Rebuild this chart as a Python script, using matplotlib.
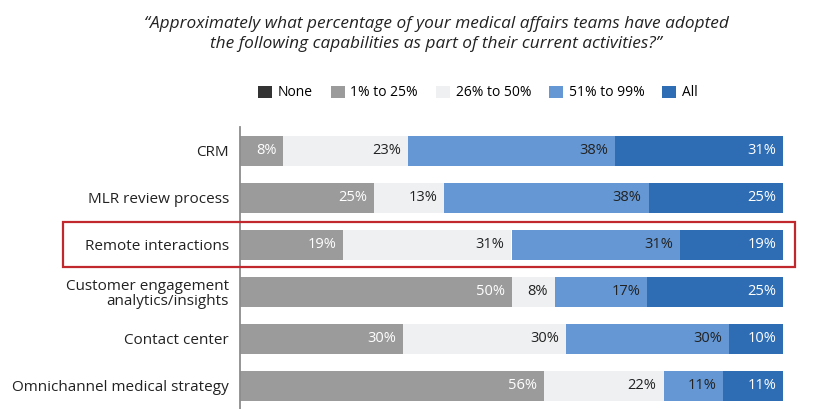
import numpy as np
import matplotlib
matplotlib.use("Agg")
import matplotlib.pyplot as plt
from matplotlib.patches import Patch, Rectangle

plt.rcParams['font.family'] = ['Open Sans', 'DejaVu Sans']

####################### Data #######################
categories = ["CRM", "MLR review process", "Remote interactions",
              "Customer engagement\nanalytics/insights", "Contact center",
              "Omnichannel medical strategy"]
series_names = ["None", "1% to 25%", "26% to 50%", "51% to 99%", "All"]
none_vals = [0, 0, 0, 0, 0, 0]
low_vals = [8, 25, 19, 50, 30, 56]
mid_vals = [23, 13, 31, 8, 30, 22]
high_vals = [38, 38, 31, 17, 30, 11]
all_vals = [31, 25, 19, 25, 10, 11]

colors = ["#333333", "#9b9b9b", "#eef0f2", "#6497d3", "#2e6db4"]
text_colors = ["white", "white", "#222222", "#222222", "white"]
title = ("\u201cApproximately what percentage of your medical affairs teams have adopted\n"
         "the following capabilities as part of their current activities?\u201d")

####################### Plot #######################
W, H = 829, 409
fig = plt.figure(figsize=(W / 100, H / 100), dpi=100)
ax = fig.add_axes([240 / W, 0, 543 / W, (H - 127) / H])

all_series = [none_vals, low_vals, mid_vals, high_vals, all_vals]
# rounding makes some rows add up to 101, so each row is drawn as a share of its total
totals = np.sum(np.array(all_series, dtype=float), axis=0)

y = np.arange(len(categories))
left = np.zeros(len(categories))
for vals, col, tcol in zip(all_series, colors, text_colors):
    vals = np.array(vals, dtype=float)
    widths = vals / totals * 100
    ax.barh(y, widths, left=left, height=0.65, color=col, linewidth=0)
    for yi, l, w, v in zip(y, left, widths, vals):
        if v > 0:
            ax.annotate(f"{int(v)}%", xy=(l + w, yi), xytext=(-5, 0),
                        textcoords="offset points", ha="right", va="center",
                        fontsize=10.5, color=tcol)
    left += widths

ax.set_xlim(0, 100)
ax.set_ylim(5.49, -0.51)
ax.set_xticks([])
ax.set_yticks(y)
ax.set_yticklabels(categories, fontsize=11, color="#222222", linespacing=1.0)
ax.tick_params(axis="y", length=0, pad=8)
for s in ["top", "right", "bottom"]:
    ax.spines[s].set_visible(False)
ax.spines["left"].set_color("#8c8c8c")
ax.spines["left"].set_linewidth(1.3)

fig.text(436 / W, 1 - 34 / H, title, ha="center", va="center", style="italic",
         fontsize=12.4, color="#222222", linespacing=1.4)

handles = [Patch(facecolor=c, edgecolor="none") for c in colors]
fig.legend(handles, series_names, loc="center", ncol=5, frameon=False,
           bbox_to_anchor=(478 / W, 1 - 93 / H), fontsize=10,
           handlelength=1.0, handleheight=1.0, handletextpad=0.4,
           columnspacing=1.3)

fig.patches.append(Rectangle((63 / W, 1 - 267 / H), (795 - 63) / W, 45 / H,
                             transform=fig.transFigure, fill=False,
                             edgecolor="#c0282d", linewidth=1.6))

fig.savefig("out.png", dpi=100)
